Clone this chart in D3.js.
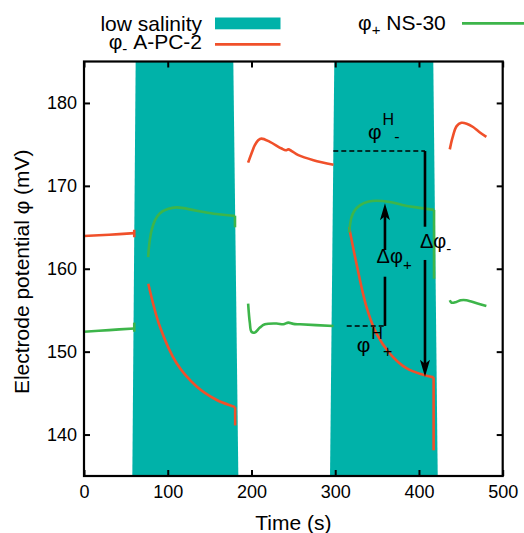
<!DOCTYPE html>
<html>
<head>
<meta charset="utf-8">
<script src="https://cdn.jsdelivr.net/npm/d3@7"></script>
<style>
  body { margin: 0; background: #fff; }
  svg text { font-family: "Liberation Sans", Arial, sans-serif; fill: #000; }
</style>
</head>
<body>
<svg id="chart"></svg>
<script>
// low salinity periods (top edge / bottom edge of the shaded band, seconds)
let bandStartTop = [61.7, 298.9];
let bandEndTop = [178.3, 417.1];
let bandStartBottom = [57.7, 293.8];
let bandEndBottom = [184.3, 422.4];

// phi- A-PC-2 (red), [time s, mV]
let red1 = [[0, 163.95], [30, 164.1], [60, 164.3]];
let red1End = [[60, 164.7], [60, 163.8]];
let red2 = [[76.8, 158.2], [90.7, 153.0], [110.6, 148.6], [134.5, 145.8], [158, 144.2], [178, 143.4], [180.5, 143.3]];
let red2End = [[180.5, 143.3], [180.5, 141.1]];
let red3 = [[196, 172.8], [200, 173.9], [204, 174.9], [208, 175.5], [212, 175.7], [222, 175.3], [236, 174.5],
            [241, 174.3], [244, 174.4], [248, 174.2], [256, 173.7], [274, 173.1], [298, 172.55]];
let red4 = [[316.6, 165.0], [325.4, 160.6], [337.3, 155.4], [349.2, 152.2], [365, 149.8], [385, 148.0], [405, 147.2], [417.5, 146.9]];
let red4End = [[417.5, 146.9], [417.5, 138.1]];
let red5 = [[436.8, 174.4], [440, 175.8], [445, 177.2], [450.6, 177.6], [457, 177.5], [464.6, 177.1], [472, 176.5], [480.5, 175.9]];

// phi+ NS-30 (green)
let green1 = [[0, 152.4], [30, 152.6], [60, 152.8]];
let green1End = [[60, 153.5], [60, 152.4]];
let green2 = [[76.6, 161.4], [78, 163.0], [80.6, 164.6], [85, 165.9], [90.7, 166.7], [100, 167.2], [110.6, 167.4],
              [134.5, 167.0], [158, 166.6], [178, 166.4], [180.3, 166.4]];
let green2End = [[180.3, 166.4], [180.3, 165.0]];
let green3 = [[196, 155.8], [198, 153.5], [200, 152.4], [204, 152.3], [210, 152.9], [216, 153.3], [230, 153.4],
              [238, 153.3], [244, 153.5], [250, 153.35], [258, 153.3], [298, 153.1]];
let green4 = [[316.6, 164.4], [319.4, 166.2], [323, 167.0], [329.4, 167.65], [340, 168.1], [349.2, 168.2], [365, 168.05],
              [380, 167.7], [397, 167.4], [418, 167.1]];
let green4End = [[418, 167.1], [418, 158.8]];
let green5 = [[436.8, 156.2], [439, 155.9], [444.6, 156.0], [450, 156.2], [456.6, 156.2], [470, 155.8], [480.5, 155.5]];

let xTicks = [0, 100, 200, 300, 400, 500];
let yTicks = [140, 150, 160, 170, 180];

// annotation anchors (data coords)
let dashMinus = [[297.7, 174.2], [407.2, 174.2]];
let arrowMinus = { t: 407.2, from: 174.2, gapTop: 165.07, gapBottom: 161.06, tip: 146.98 };
let dashPlus = [[313.7, 153.1], [359.4, 153.1]];
let arrowPlus = { t: 359.4, from: 153.1, gapBottom: 159.04, gapTop: 162.26, tip: 167.9 };

const teal = "#00b2a9", red = "#f0502a", green = "#3db54a";

function draw() {
    let w = 524, h = 533;
    let m = { top: 61.5, right: 21.3, bottom: 57, left: 84 };

    let svg = d3.select("#chart").attr("width", w).attr("height", h);

    let x = d3.scaleLinear().domain([0, 500]).range([m.left, w - m.right]);
    let y = d3.scaleLinear().domain([135, 185]).range([h - m.bottom, m.top]);

    // shaded bands
    let bands = bandStartTop.map((s, i) => [
        [bandStartTop[i], 185], [bandEndTop[i], 185], [bandEndBottom[i], 135], [bandStartBottom[i], 135]
    ]);
    svg.selectAll("polygon.band")
        .data(bands)
        .enter()
        .append("polygon")
        .attr("class", "band")
        .attr("fill", teal)
        .attr("points", d => d.map(p => x(p[0]) + "," + y(p[1])).join(" "));

    // curves
    let smooth = d3.line().x(d => x(d[0])).y(d => y(d[1])).curve(d3.curveCatmullRom.alpha(0.5));
    let straight = d3.line().x(d => x(d[0])).y(d => y(d[1]));

    [red1, red2, red3, red4, red5].forEach(s => {
        svg.append("path").attr("d", smooth(s)).attr("fill", "none").attr("stroke", red).attr("stroke-width", 2.6);
    });
    [red1End, red2End, red4End].forEach(s => {
        svg.append("path").attr("d", straight(s)).attr("fill", "none").attr("stroke", red).attr("stroke-width", 2.6);
    });
    [green1, green2, green3, green4, green5].forEach(s => {
        svg.append("path").attr("d", smooth(s)).attr("fill", "none").attr("stroke", green).attr("stroke-width", 2.6);
    });
    [green1End, green2End, green4End].forEach(s => {
        svg.append("path").attr("d", straight(s)).attr("fill", "none").attr("stroke", green).attr("stroke-width", 2.6);
    });

    // axes (ticks pointing inward on all four sides)
    let fs = "18px";
    let gx = svg.append("g").attr("transform", `translate(0,${h - m.bottom})`)
        .call(d3.axisBottom(x).tickValues(xTicks).tickSizeInner(-6).tickSizeOuter(0).tickPadding(9));
    let gy = svg.append("g").attr("transform", `translate(${m.left},0)`)
        .call(d3.axisLeft(y).tickValues(yTicks).tickSizeInner(-6).tickSizeOuter(0).tickPadding(7));
    let gt = svg.append("g").attr("transform", `translate(0,${m.top})`)
        .call(d3.axisTop(x).tickValues(xTicks).tickSizeInner(-6).tickSizeOuter(0).tickFormat(""));
    let gr = svg.append("g").attr("transform", `translate(${w - m.right},0)`)
        .call(d3.axisRight(y).tickValues(yTicks).tickSizeInner(-6).tickSizeOuter(0).tickFormat(""));
    [gx, gy, gt, gr].forEach(g => {
        g.select(".domain").remove();
        g.selectAll(".tick line").attr("stroke", "#000").attr("stroke-width", 2);
        g.selectAll(".tick text").style("font-size", fs).attr("fill", "#000")
            .style("font-family", '"Liberation Sans", Arial, sans-serif');
    });

    svg.append("rect")
        .attr("x", m.left).attr("y", m.top)
        .attr("width", w - m.left - m.right).attr("height", h - m.top - m.bottom)
        .attr("fill", "none").attr("stroke", "#000").attr("stroke-width", 2.2);

    // axis titles
    svg.append("text")
        .attr("x", x(250)).attr("y", 530)
        .style("text-anchor", "middle").style("font-size", "21px")
        .text("Time (s)");
    svg.append("text")
        .attr("transform", `translate(28.5,${(m.top + h - m.bottom) / 2 + 3}) rotate(-90)`)
        .style("text-anchor", "middle").style("font-size", "21px")
        .text("Electrode potential φ (mV)");

    // annotations
    let ann = svg.append("g");
    [dashMinus, dashPlus].forEach(s => {
        ann.append("path").attr("d", straight(s)).attr("stroke", "#000")
            .attr("stroke-width", 1.4).attr("stroke-dasharray", "5,3").attr("fill", "none");
    });
    let seg = (t, a, b) => ann.append("line")
        .attr("x1", x(t)).attr("x2", x(t)).attr("y1", y(a)).attr("y2", y(b))
        .attr("stroke", "#000").attr("stroke-width", 2.6);
    seg(arrowMinus.t, arrowMinus.from, arrowMinus.gapTop);
    seg(arrowMinus.t, arrowMinus.gapBottom, arrowMinus.tip + 1.2);
    seg(arrowPlus.t, arrowPlus.from, arrowPlus.gapBottom);
    seg(arrowPlus.t, arrowPlus.gapTop, arrowPlus.tip - 1.2);

    let head = (t, v, dir) => {
        let px = x(t), py = y(v);
        ann.append("path")
            .attr("d", `M${px},${py} L${px - 5},${py - dir * 17} L${px},${py - dir * 13} L${px + 5},${py - dir * 17} Z`)
            .attr("fill", "#000");
    };
    head(arrowMinus.t, arrowMinus.tip, 1);
    head(arrowPlus.t, arrowPlus.tip, -1);

    // phi^H_- label
    let l1 = ann.append("text").attr("x", x(339.1)).attr("y", y(175.65));
    l1.append("tspan").style("font-size", "21px").text("φ");
    l1.append("tspan").style("font-size", "16px").attr("dx", 1).attr("dy", -14).text("H");
    l1.append("tspan").style("font-size", "16px").attr("dy", 17).text("-");

    // phi^H_+ label
    let l2 = ann.append("text").attr("x", x(325.7)).attr("y", y(149.9));
    l2.append("tspan").style("font-size", "21px").text("φ");
    l2.append("tspan").style("font-size", "16px").attr("dx", 1).attr("dy", -13.5).text("H");
    l2.append("tspan").style("font-size", "16px").attr("dy", 18).text("+");

    // delta labels
    let l3 = ann.append("text").attr("x", x(349.4)).attr("y", y(160.66));
    l3.append("tspan").style("font-size", "20px").text("Δφ");
    l3.append("tspan").style("font-size", "15px").attr("dy", 7).text("+");
    let l4 = ann.append("text").attr("x", x(401.2)).attr("y", y(162.47));
    l4.append("tspan").style("font-size", "20px").text("Δφ");
    l4.append("tspan").style("font-size", "15px").attr("dy", 6).text("-");

    // legend
    let leg = svg.append("g").style("font-size", "21px");
    leg.append("text").attr("x", 202).attr("y", 31).style("text-anchor", "end").text("low salinity");
    leg.append("rect").attr("x", 215).attr("y", 17.5).attr("width", 65.5).attr("height", 11.8).attr("fill", teal);

    let lt = leg.append("text").attr("x", 202).attr("y", 49).style("text-anchor", "end");
    lt.append("tspan").text("φ");
    lt.append("tspan").style("font-size", "15px").attr("dy", 5).text("-");
    lt.append("tspan").attr("dy", -5).text(" A-PC-2");
    leg.append("line").attr("x1", 215).attr("x2", 280.5).attr("y1", 44.3).attr("y2", 44.3)
        .attr("stroke", red).attr("stroke-width", 2.8);

    let gt2 = leg.append("text").attr("x", 358).attr("y", 29.5);
    gt2.append("tspan").text("φ");
    gt2.append("tspan").style("font-size", "15px").attr("dy", 5).text("+");
    gt2.append("tspan").attr("dy", -5).text(" NS-30");
    leg.append("line").attr("x1", 462).attr("x2", 526).attr("y1", 23.3).attr("y2", 23.3)
        .attr("stroke", green).attr("stroke-width", 2.8);
}

window.onload = function() {
    draw();
};
</script>
</body>
</html>
